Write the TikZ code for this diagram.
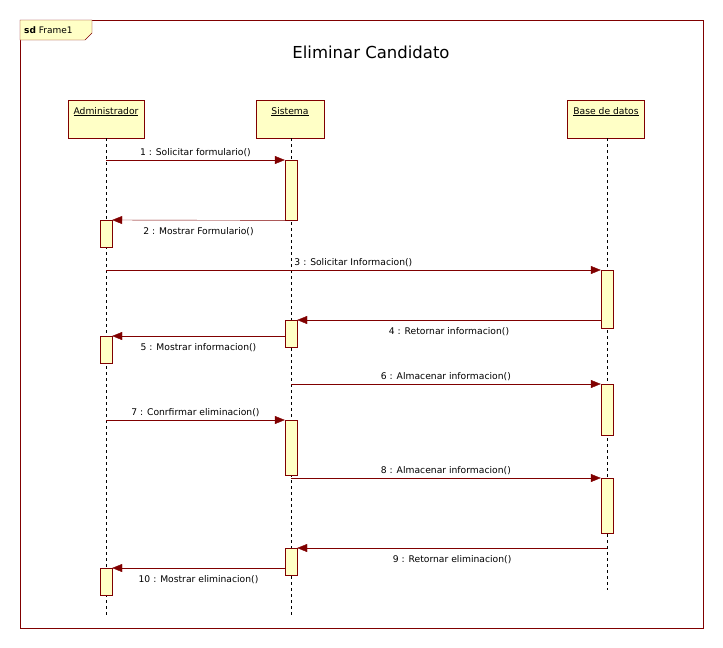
\documentclass[tikz,border=0pt]{standalone}
\usepackage{fontspec}
\setmainfont{DejaVu Sans}
\usetikzlibrary{arrows.meta,positioning}
\definecolor{umlred}{HTML}{800000}
\definecolor{umlfill}{HTML}{FFFFC6}

\begin{document}
\begin{tikzpicture}[x=1pt, y=-1pt,
    obj/.style={draw=umlred, fill=umlfill, font=\fontsize{9.2}{10}\selectfont, minimum width=76pt, inner sep=3pt, text height=11pt, text depth=21pt},
    act/.style={draw=umlred, fill=umlfill, minimum width=12pt, inner sep=0pt, anchor=north},
    life/.style={black, dash pattern=on 3pt off 3pt},
    msg/.style={-{Triangle[length=10pt, width=8pt]}, draw=umlred},
    lbl/.style={font=\fontsize{9.2}{10}\selectfont, black, inner sep=3.5pt},
    lblb/.style={lbl, yshift=-4pt}
]
\useasboundingbox (0,0) rectangle (723,648);
% frame
\draw[umlred] (20,20) rectangle (703,628);
\draw[umlred, fill=umlfill] (20,20) -- (92,20) -- (92,33) -- (85,40) -- (20,40) -- cycle;
\node[anchor=west, font=\fontsize{9}{10}\selectfont, inner sep=0pt] (tab) at (24,30) {\textbf{sd} Frame1};
\node[font=\fontsize{16.5}{18}\selectfont] (title) at (371,52) {Eliminar Candidato};

% lifelines
\node[obj] (adm) at (106,119) {\underline{Administrador}};
\node[obj, minimum width=68pt] (sis) at (290,119) {\underline{Sistema}};
\node[obj, minimum width=77pt] (bd) at (606,119) {\underline{Base de datos}};
\coordinate (admend) at (106,615);
\coordinate (sisend) at (291,615);
\coordinate (bdend) at (607,590);
\draw[life] (adm.south) -- (admend);
\draw[life] (sis.south -| sisend) -- (sisend);
\draw[life] (bd.south -| bdend) -- (bdend);

% activations
\node[act, minimum height=60pt] (s1) at (291,160) {};
\node[act, minimum height=27pt] (a1) at (106,220) {};
\node[act, minimum height=58pt] (b1) at (607,270) {};
\node[act, minimum height=27pt] (s2) at (291,320) {};
\node[act, minimum height=27pt] (a2) at (106,336) {};
\node[act, minimum height=51pt] (b2) at (607,384) {};
\node[act, minimum height=55pt] (s3) at (291,420) {};
\node[act, minimum height=55pt] (b3) at (607,478) {};
\node[act, minimum height=27pt] (s4) at (291,548) {};
\node[act, minimum height=27pt] (a3) at (106,568) {};

% message ends
\coordinate (m1) at (106,160);
\coordinate (m3) at (106,270);
\coordinate (m6) at (291,384);
\coordinate (m7) at (106,420);
\coordinate (m8) at (291,478);
\coordinate (m9) at (607,548);

% messages
\draw[msg] (m1) -- (s1.north west) node[lbl, midway, above] {1 : Solicitar formulario()};
\draw[msg] (s1.south west) -- (a1.north east) node[lblb, midway, below] {2 : Mostrar Formulario()};
\draw[msg] (m3) -- (b1.north west) node[lbl, midway, above] {3 : Solicitar Informacion()};
\draw[msg] (b1.west |- s2.north) -- (s2.north east) node[lblb, midway, below] {4 : Retornar informacion()};
\draw[msg] (s2.west |- a2.north) -- (a2.north east) node[lblb, midway, below] {5 : Mostrar informacion()};
\draw[msg] (m6) -- (b2.north west) node[lbl, midway, above] {6 : Almacenar informacion()};
\draw[msg] (m7) -- (s3.north west) node[lbl, midway, above] {7 : Conrfirmar eliminacion()};
\draw[msg] (m8) -- (b3.north west) node[lbl, midway, above] {8 : Almacenar informacion()};
\draw[msg] (m9) -- (s4.north east) node[lblb, midway, below] {9 : Retornar eliminacion()};
\draw[msg] (s4.west |- a3.north) -- (a3.north east) node[lblb, midway, below] {10 : Mostrar eliminacion()};
\end{tikzpicture}
\end{document}
